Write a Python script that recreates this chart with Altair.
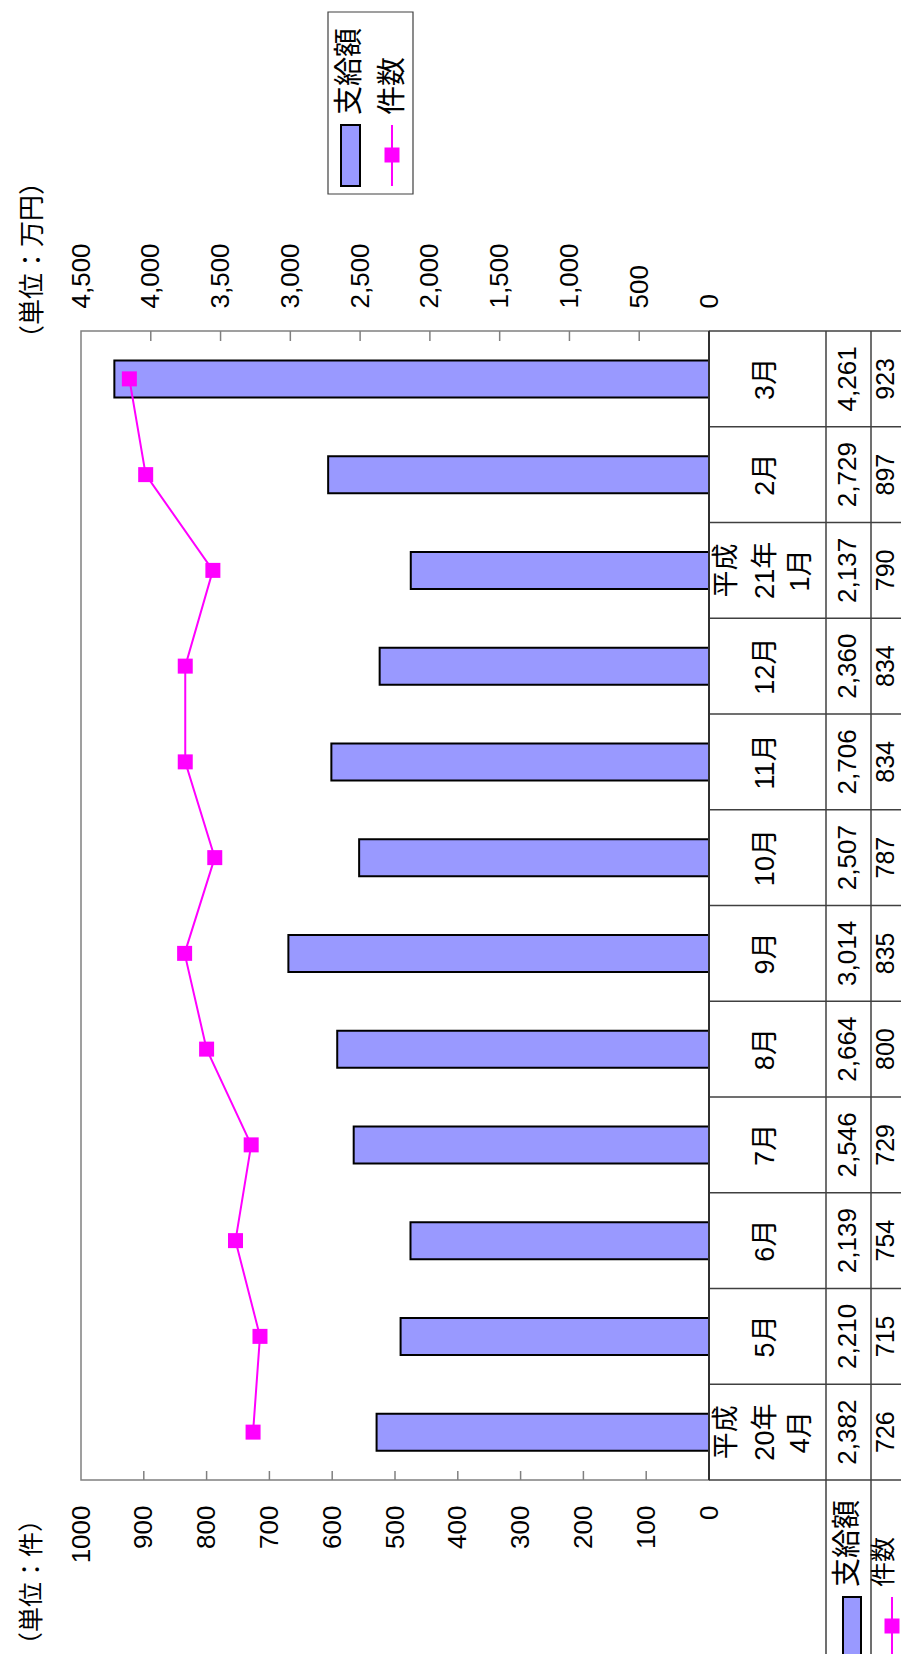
import altair as alt
import pandas as pd

# ---- data ----
months = ["4月", "5月", "6月", "7月", "8月", "9月", "10月", "11月", "12月", "1月", "2月", "3月"]
label_lines = [["平成", "20年", "4月"], ["", "5月", ""], ["", "6月", ""], ["", "7月", ""],
               ["", "8月", ""], ["", "9月", ""], ["", "10月", ""], ["", "11月", ""],
               ["", "12月", ""], ["平成", "21年", "1月"], ["", "2月", ""], ["", "3月", ""]]
amount = [2382, 2210, 2139, 2546, 2664, 3014, 2507, 2706, 2360, 2137, 2729, 4261]
count = [726, 715, 754, 729, 800, 835, 787, 834, 834, 790, 897, 923]
amount_axis_values = [0, 500, 1000, 1500, 2000, 2500, 3000, 3500, 4000, 4500]
count_axis_values = [0, 100, 200, 300, 400, 500, 600, 700, 800, 900, 1000]
amount_inner_ticks = [500, 1000, 1500, 2000, 2500, 3000, 3500, 4000]
count_inner_ticks = [100, 200, 300, 400, 500, 600, 700, 800, 900]

FONT = "Liberation Sans, Noto Sans CJK JP"
JFONT = "Noto Sans CJK JP"
BAR = "#9999FF"
MAG = "#FF00FF"
GRID = "#404040"
FRAME = "#808080"

W, H = 628, 1149

df = pd.DataFrame({"month": months,
                   "l1": [l[0] for l in label_lines],
                   "l2": [l[1] for l in label_lines],
                   "l3": [l[2] for l in label_lines],
                   "amount": amount, "count": count,
                   "idx": list(range(len(months)))})
order = months[::-1]
yscale = alt.Scale(paddingInner=0, paddingOuter=0)
Y = alt.Y("month:N", sort=order, scale=yscale, axis=None)

amt_scale = alt.Scale(domain=[0, 4500], reverse=True, nice=False)
cnt_scale = alt.Scale(domain=[0, 1000], reverse=True, nice=False)

top_axis = alt.Axis(orient="top", values=amount_axis_values, format=",d", labelAngle=270,
                    labelAlign="left", labelBaseline="middle", labelPadding=23,
                    ticks=False, tickSize=0, domain=False, grid=False, title=None,
                    labelFlush=False, labelOverlap=False)
bottom_axis = alt.Axis(orient="bottom", values=count_axis_values, format="d", labelAngle=270,
                       labelAlign="right", labelBaseline="middle", labelPadding=25,
                       ticks=False, tickSize=0, domain=False, grid=False, title=None,
                       labelFlush=False, labelOverlap=False)

base = alt.Chart(df)

bars = base.mark_bar(size=37, fill=BAR, stroke="black", strokeWidth=2).encode(
    x=alt.X("amount:Q", scale=amt_scale, axis=top_axis), y=Y)

line = base.mark_line(color=MAG, strokeWidth=2).encode(
    x=alt.X("count:Q", scale=cnt_scale, axis=bottom_axis), y=Y, order="idx:Q")

pts = base.mark_square(size=225, color=MAG, opacity=1, filled=True).encode(
    x=alt.X("count:Q", scale=cnt_scale, axis=None), y=Y)

top_ticks = alt.Chart(pd.DataFrame({"v": amount_inner_ticks})).mark_rule(
    color=FRAME, strokeWidth=1.5).encode(
    x=alt.X("v:Q", scale=amt_scale, axis=None), y=alt.value(0), y2=alt.value(10))

bottom_ticks = alt.Chart(pd.DataFrame({"v": count_inner_ticks})).mark_rule(
    color=FRAME, strokeWidth=1.5).encode(
    x=alt.X("v:Q", scale=cnt_scale, axis=None), y=alt.value(H - 9), y2=alt.value(H))


# ---- data table (right side) ----
def col_text(field, xpos, size=27, fmt=None):
    t = alt.Text(field, format=fmt) if fmt else alt.Text(field)
    return base.mark_text(angle=270, align="center", baseline="middle", fontSize=size,
                          font=FONT, color="black").encode(x=alt.value(xpos), y=Y, text=t)


cat1 = col_text("l1:N", 646)
cat2 = col_text("l2:N", 685)
cat3 = col_text("l3:N", 720)
amt_text = col_text("amount:Q", 767, 26, ",d")
cnt_text = col_text("count:Q", 805, 25, "d")

row_lines = base.mark_rule(color=GRID, strokeWidth=1.5).encode(
    x=alt.value(W), x2=alt.value(840),
    y=alt.Y("month:N", sort=order, scale=yscale, axis=None, bandPosition=0))

one = pd.DataFrame({"a": [1]})


def rule(x1, x2, y1, y2, color, w):
    enc = {"x": alt.value(x1), "y": alt.value(y1)}
    if x2 is not None:
        enc["x2"] = alt.value(x2)
    if y2 is not None:
        enc["y2"] = alt.value(y2)
    return alt.Chart(one).mark_rule(color=color, strokeWidth=w).encode(**enc)


def text(x, y, s, size, align="left", font=JFONT):
    return alt.Chart(one).mark_text(text=s, angle=270, align=align, baseline="middle",
                                    fontSize=size, font=font, color="black").encode(
        x=alt.value(x), y=alt.value(y))


deco = [
    rule(W, 840, H, None, GRID, 1.5),          # bottom line of table
    rule(W, None, 0, H, "#303030", 2),         # category axis line / table left
    rule(745, None, 0, 1330, GRID, 1.5),
    rule(790, None, 0, 1330, GRID, 1.5),
    # table header (legend keys)
    text(767, 1256, "支給額", 29),
    text(803, 1256, "件数", 25),
    alt.Chart(one).mark_rect(fill=BAR, stroke="black", strokeWidth=2).encode(
        x=alt.value(762), x2=alt.value(780), y=alt.value(1266), y2=alt.value(1324)),
    rule(811, None, 1266, 1330, MAG, 2),
    alt.Chart(one).mark_square(size=225, color=MAG, opacity=1).encode(
        x=alt.value(811), y=alt.value(1295)),
    # top legend
    alt.Chart(one).mark_rect(fill="white", stroke=GRID, strokeWidth=1.2).encode(
        x=alt.value(247), x2=alt.value(332), y=alt.value(-319), y2=alt.value(-137)),
    alt.Chart(one).mark_rect(fill=BAR, stroke="black", strokeWidth=2).encode(
        x=alt.value(260), x2=alt.value(279), y=alt.value(-206), y2=alt.value(-145)),
    text(269, -216, "支給額", 29),
    text(312, -216, "件数", 29),
    rule(311, None, -206, -145, MAG, 2),
    alt.Chart(one).mark_square(size=225, color=MAG, opacity=1).encode(
        x=alt.value(311), y=alt.value(-176)),
    # unit labels
    text(-48, -162, "（単位：万円）", 26, align="right"),
    text(-49, 1176, "（単位：件）", 25, align="right"),
]

chart = alt.layer(bars, line, pts, top_ticks, bottom_ticks, row_lines,
                  cat1, cat2, cat3, amt_text, cnt_text, *deco).resolve_scale(
    x="independent").properties(
    width=W, height=H,
    padding={"left": 73, "top": 323, "right": 192, "bottom": 174},
    autosize=alt.AutoSizeParams(type="none"),
).configure_view(stroke=FRAME, strokeWidth=1.5).configure_axis(
    labelFont=FONT, labelFontSize=26, labelColor="black")

chart.save("out.html", embed_options={"renderer": "svg", "actions": False})
